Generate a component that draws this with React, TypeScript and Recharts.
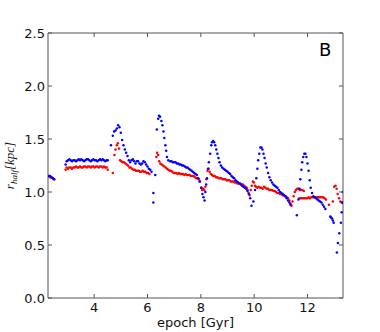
import React from 'react';
import { ScatterChart, Scatter, XAxis, YAxis, ReferenceDot } from 'recharts';

const xTicks = [4, 6, 8, 10, 12];
const yTicks = [0, 0.5, 1.0, 1.5, 2.0, 2.5];
const xDomain: [number, number] = [2.27, 13.33];
const yDomain: [number, number] = [0, 2.5];
const panelLabel = 'B';
const xLabel = 'epoch [Gyr]';

// [epoch (Gyr), r_half (kpc)]
const blueSeries: [number, number][] = [
  [2.30, 1.15], [2.35, 1.15], [2.40, 1.14], [2.45, 1.13], [2.50, 1.12],
  [2.93, 1.26], [2.97, 1.29], [3.02, 1.30], [3.07, 1.31], [3.12, 1.30], [3.17, 1.29], [3.22, 1.30], [3.27, 1.30],
  [3.32, 1.29], [3.37, 1.30], [3.42, 1.31], [3.47, 1.30], [3.52, 1.31], [3.57, 1.30], [3.62, 1.29], [3.67, 1.30],
  [3.72, 1.31], [3.77, 1.31], [3.82, 1.30], [3.87, 1.29], [3.92, 1.30], [3.97, 1.31], [4.02, 1.30], [4.07, 1.30],
  [4.12, 1.29], [4.17, 1.30], [4.22, 1.31], [4.27, 1.30], [4.32, 1.31], [4.37, 1.30], [4.42, 1.29], [4.47, 1.30],
  [4.51, 1.30],
  [4.63, 1.44], [4.70, 1.53], [4.75, 1.57], [4.80, 1.58], [4.85, 1.60], [4.90, 1.63], [4.95, 1.61], [5.00, 1.56],
  [5.05, 1.49], [5.10, 1.44], [5.15, 1.40], [5.20, 1.37], [5.25, 1.34], [5.30, 1.30], [5.35, 1.28], [5.40, 1.30],
  [5.45, 1.31], [5.50, 1.29], [5.55, 1.27], [5.60, 1.29], [5.65, 1.29], [5.70, 1.27], [5.75, 1.26], [5.80, 1.27],
  [5.85, 1.29], [5.90, 1.28], [5.95, 1.26], [6.00, 1.24], [6.05, 1.22], [6.10, 1.21], [6.15, 1.19],
  [6.22, 0.99], [6.22, 0.90], [6.29, 1.16],
  [6.35, 1.59], [6.40, 1.69], [6.43, 1.72], [6.47, 1.71], [6.52, 1.67], [6.56, 1.63], [6.60, 1.57], [6.63, 1.51],
  [6.67, 1.44], [6.70, 1.39], [6.73, 1.33], [6.78, 1.30], [6.85, 1.29], [6.90, 1.29], [6.95, 1.28], [7.00, 1.28],
  [7.05, 1.28], [7.10, 1.27], [7.15, 1.27], [7.20, 1.26], [7.25, 1.26], [7.30, 1.25], [7.35, 1.25], [7.40, 1.24],
  [7.45, 1.23], [7.50, 1.23], [7.55, 1.22], [7.60, 1.21], [7.65, 1.20], [7.70, 1.19], [7.75, 1.18], [7.80, 1.17],
  [7.85, 1.16], [7.90, 1.13], [7.95, 1.10], [8.02, 1.04], [8.06, 0.98],
  [8.10, 0.95], [8.14, 0.92], [8.17, 1.00], [8.20, 1.07], [8.23, 1.13], [8.27, 1.22], [8.30, 1.28], [8.35, 1.36],
  [8.39, 1.44], [8.42, 1.47], [8.46, 1.48], [8.50, 1.47], [8.54, 1.44], [8.58, 1.40], [8.62, 1.36], [8.66, 1.32],
  [8.70, 1.28], [8.75, 1.25], [8.80, 1.23], [8.85, 1.22], [8.90, 1.21], [8.95, 1.20], [9.00, 1.19], [9.05, 1.18],
  [9.10, 1.17], [9.15, 1.15], [9.20, 1.14], [9.25, 1.13], [9.30, 1.11], [9.35, 1.10], [9.40, 1.09], [9.45, 1.08],
  [9.50, 1.07], [9.55, 1.06], [9.60, 1.05], [9.65, 1.04], [9.70, 1.03], [9.75, 1.01], [9.80, 0.98], [9.85, 0.94],
  [9.90, 0.87],
  [9.97, 0.91], [10.03, 1.02], [10.08, 1.13], [10.12, 1.22], [10.15, 1.30], [10.19, 1.36], [10.23, 1.42],
  [10.27, 1.42], [10.31, 1.40], [10.35, 1.36], [10.39, 1.32], [10.43, 1.27], [10.47, 1.23], [10.52, 1.18],
  [10.57, 1.14], [10.62, 1.11], [10.67, 1.09], [10.72, 1.07], [10.77, 1.06], [10.82, 1.05], [10.87, 1.04],
  [10.92, 1.02], [10.97, 1.00], [11.02, 0.99], [11.07, 0.98], [11.12, 0.97], [11.17, 0.96], [11.22, 0.94],
  [11.27, 0.92], [11.32, 0.90], [11.36, 0.88],
  [11.60, 0.78], [11.66, 0.93], [11.70, 1.03], [11.73, 1.12], [11.77, 1.21], [11.80, 1.28], [11.84, 1.33],
  [11.88, 1.36], [11.92, 1.36], [11.96, 1.33], [12.00, 1.27], [12.04, 1.20], [12.08, 1.11], [12.12, 1.04],
  [12.17, 0.99], [12.22, 0.96], [12.27, 0.95], [12.32, 0.94], [12.37, 0.93], [12.42, 0.92], [12.47, 0.91],
  [12.52, 0.90], [12.57, 0.88], [12.62, 0.86], [12.67, 0.84],
  [12.85, 0.77], [12.88, 0.76], [12.92, 0.75], [12.95, 0.73], [12.98, 0.71], [13.10, 0.43], [13.14, 0.52],
  [13.19, 0.61], [13.25, 0.71], [13.28, 0.81], [13.30, 0.90], [13.32, 1.00],
];

const redSeries: [number, number][] = [
  [2.30, 1.15], [2.35, 1.14], [2.40, 1.14], [2.45, 1.13], [2.50, 1.12],
  [2.93, 1.21], [2.97, 1.23], [3.02, 1.22], [3.07, 1.23], [3.12, 1.23], [3.17, 1.22], [3.22, 1.23], [3.27, 1.23],
  [3.32, 1.24], [3.37, 1.23], [3.42, 1.23], [3.47, 1.24], [3.52, 1.23], [3.57, 1.23], [3.62, 1.24], [3.67, 1.24],
  [3.72, 1.23], [3.77, 1.24], [3.82, 1.24], [3.87, 1.23], [3.92, 1.24], [3.97, 1.24], [4.02, 1.23], [4.07, 1.24],
  [4.12, 1.24], [4.17, 1.23], [4.22, 1.24], [4.27, 1.24], [4.32, 1.23], [4.37, 1.24], [4.42, 1.23], [4.47, 1.23],
  [4.51, 1.21],
  [4.70, 1.18],
  [4.76, 1.35], [4.80, 1.40], [4.85, 1.44], [4.89, 1.46], [4.93, 1.41], [4.97, 1.30], [5.02, 1.29], [5.07, 1.28],
  [5.12, 1.28], [5.17, 1.27], [5.22, 1.26], [5.27, 1.25], [5.32, 1.23], [5.37, 1.23], [5.42, 1.22], [5.47, 1.21],
  [5.52, 1.21], [5.57, 1.20], [5.62, 1.20], [5.67, 1.20], [5.72, 1.19], [5.77, 1.19], [5.82, 1.20], [5.87, 1.19],
  [5.92, 1.19], [5.97, 1.18], [6.02, 1.18], [6.07, 1.17],
  [6.33, 1.33], [6.36, 1.37], [6.40, 1.35], [6.44, 1.29], [6.48, 1.27], [6.53, 1.26], [6.58, 1.25], [6.63, 1.24],
  [6.68, 1.23], [6.73, 1.22], [6.78, 1.21], [6.83, 1.20], [6.88, 1.20], [6.93, 1.19], [6.98, 1.18], [7.03, 1.18],
  [7.08, 1.18], [7.13, 1.17], [7.18, 1.18], [7.23, 1.17], [7.28, 1.17], [7.33, 1.17], [7.38, 1.16], [7.43, 1.17],
  [7.48, 1.16], [7.53, 1.16], [7.58, 1.16], [7.63, 1.15], [7.68, 1.15], [7.73, 1.15], [7.78, 1.14], [7.83, 1.13],
  [7.88, 1.13], [7.93, 1.12], [7.97, 1.10], [8.01, 1.04], [8.05, 1.02], [8.09, 1.03], [8.13, 1.02], [8.17, 1.05],
  [8.21, 1.12], [8.25, 1.20], [8.29, 1.22], [8.33, 1.19], [8.37, 1.17], [8.42, 1.16], [8.47, 1.15], [8.52, 1.15],
  [8.57, 1.14], [8.62, 1.14], [8.67, 1.13], [8.72, 1.13], [8.77, 1.13], [8.82, 1.12], [8.87, 1.12], [8.92, 1.12],
  [8.97, 1.11], [9.02, 1.11], [9.07, 1.11], [9.12, 1.10], [9.17, 1.10], [9.22, 1.10], [9.27, 1.09], [9.32, 1.09],
  [9.37, 1.08], [9.42, 1.08], [9.47, 1.08], [9.52, 1.07], [9.57, 1.07], [9.62, 1.06], [9.67, 1.05], [9.72, 1.04],
  [9.75, 1.02], [9.79, 0.99], [9.83, 0.97], [9.87, 1.02], [9.91, 1.06], [9.95, 1.10], [9.99, 1.09], [10.03, 1.06],
  [10.07, 1.05], [10.12, 1.04], [10.17, 1.05], [10.22, 1.04], [10.27, 1.04], [10.32, 1.03], [10.37, 1.05],
  [10.42, 1.04], [10.47, 1.03], [10.52, 1.03], [10.57, 1.02], [10.62, 1.02], [10.67, 1.02], [10.72, 1.01],
  [10.77, 1.01], [10.82, 1.00], [10.87, 0.99], [10.92, 0.99], [10.97, 0.98], [11.02, 0.98], [11.07, 0.97],
  [11.12, 0.97], [11.17, 0.96], [11.22, 0.95], [11.27, 0.94], [11.32, 0.92], [11.36, 0.89], [11.40, 0.87],
  [11.44, 0.91], [11.48, 0.96], [11.52, 1.00], [11.56, 1.02], [11.61, 1.03], [11.66, 1.03], [11.71, 1.02],
  [11.76, 1.02], [11.81, 1.02], [11.86, 1.01],
  [11.69, 0.94], [11.74, 0.94], [11.79, 0.94], [11.84, 0.94], [11.89, 0.94], [11.94, 0.94], [11.99, 0.94],
  [12.04, 0.95], [12.09, 0.94], [12.14, 0.95], [12.19, 0.95], [12.24, 0.95], [12.29, 0.95], [12.34, 0.95],
  [12.39, 0.95], [12.44, 0.95], [12.49, 0.95], [12.54, 0.95], [12.59, 0.95], [12.64, 0.94], [12.69, 0.93],
  [12.80, 0.88], [12.95, 0.91], [13.00, 1.05], [13.05, 1.06], [13.09, 1.03], [13.13, 0.98], [13.18, 0.94],
  [13.23, 0.91], [13.28, 0.90], [13.32, 0.90],
];

const toPoints = (arr: [number, number][]) => arr.map(([epoch, rhalf]) => ({ epoch, rhalf }));
const blueData = toPoints(blueSeries);
const redData = toPoints(redSeries);

const FONT = '"DejaVu Sans", sans-serif';
const TICK_LEN = 4;
const AXIS_COLOR = '#555';
const TEXT_COLOR = '#111';

const BottomTick = (props: any) => {
  const { x, y, payload } = props;
  return (
    <g>
      <line x1={x} x2={x} y1={y} y2={y - TICK_LEN} stroke={AXIS_COLOR} strokeWidth={1} />
      <text x={x} y={y + 14} textAnchor="middle" fontFamily={FONT} fontSize={13} fill={TEXT_COLOR}>
        {payload.value}
      </text>
    </g>
  );
};

const LeftTick = (props: any) => {
  const { x, y, payload } = props;
  return (
    <g>
      <line x1={x} x2={x + TICK_LEN} y1={y} y2={y} stroke={AXIS_COLOR} strokeWidth={1} />
      <text x={x - 3} y={y + 4.6} textAnchor="end" fontFamily={FONT} fontSize={13} fill={TEXT_COLOR}>
        {Number(payload.value).toFixed(1)}
      </text>
    </g>
  );
};

const TopTick = (props: any) => {
  const { x, y } = props;
  return <line x1={x} x2={x} y1={y} y2={y + TICK_LEN} stroke={AXIS_COLOR} strokeWidth={1} />;
};

const RightTick = (props: any) => {
  const { x, y } = props;
  return <line x1={x} x2={x - TICK_LEN} y1={y} y2={y} stroke={AXIS_COLOR} strokeWidth={1} />;
};

const YLabel = (props: any) => {
  const vb = props.viewBox || { x: 0, y: 33, width: 48, height: 265 };
  const cx = vb.x + 14;
  const cy = vb.y + vb.height / 2;
  return (
    <text
      x={cx}
      y={cy}
      transform={`rotate(-90 ${cx} ${cy})`}
      textAnchor="middle"
      fontFamily='"Liberation Serif", serif'
      fontStyle="italic"
      fontSize={13}
      fill={TEXT_COLOR}
    >
      r<tspan dy={3} fontSize={9}>half</tspan>
      <tspan dy={-3}>[kpc]</tspan>
    </text>
  );
};

const XLabel = (props: any) => {
  const vb = props.viewBox || { x: 48, y: 298, width: 295, height: 34 };
  return (
    <text x={vb.x + vb.width / 2} y={vb.y + 29} textAnchor="middle" fontFamily={FONT} fontSize={13} fill={TEXT_COLOR}>
      {xLabel}
    </text>
  );
};

const Dot = (color: string) => (p: any) =>
  p.cx == null ? null : <circle cx={p.cx} cy={p.cy} r={1.25} fill={color} />;

export default function App() {
  return (
    <div style={{ position: 'absolute', left: 0, top: 0, background: '#fff' }}>
      <ScatterChart width={380} height={332} margin={{ top: 32, right: 36, bottom: 0, left: 0 }}>
        <XAxis
          xAxisId="main"
          type="number"
          dataKey="epoch"
          domain={xDomain}
          allowDataOverflow
          ticks={xTicks}
          height={34}
          tickSize={0}
          tickMargin={0}
          tickLine={false}
          axisLine={{ stroke: AXIS_COLOR, strokeWidth: 1 }}
          tick={<BottomTick />}
          label={<XLabel />}
          interval={0}
        />
        <XAxis
          xAxisId="top"
          orientation="top"
          type="number"
          dataKey="epoch"
          domain={xDomain}
          allowDataOverflow
          ticks={xTicks}
          height={1}
          tickSize={0}
          tickMargin={0}
          tickLine={false}
          axisLine={{ stroke: AXIS_COLOR, strokeWidth: 1 }}
          tick={<TopTick />}
          interval={0}
        />
        <YAxis
          yAxisId="main"
          type="number"
          dataKey="rhalf"
          domain={yDomain}
          allowDataOverflow
          ticks={yTicks}
          width={48}
          tickSize={0}
          tickMargin={0}
          tickLine={false}
          axisLine={{ stroke: AXIS_COLOR, strokeWidth: 1 }}
          tick={<LeftTick />}
          label={<YLabel />}
          interval={0}
        />
        <YAxis
          yAxisId="right"
          orientation="right"
          type="number"
          dataKey="rhalf"
          domain={yDomain}
          allowDataOverflow
          ticks={yTicks}
          width={1}
          tickSize={0}
          tickMargin={0}
          tickLine={false}
          axisLine={{ stroke: AXIS_COLOR, strokeWidth: 1 }}
          tick={<RightTick />}
          interval={0}
        />
        <Scatter xAxisId="top" yAxisId="right" data={redData} shape={() => null} isAnimationActive={false} />
        <Scatter xAxisId="main" yAxisId="main" data={redData} fill="#ff0000" shape={Dot('#ff0000')} isAnimationActive={false} />
        <Scatter xAxisId="main" yAxisId="main" data={blueData} fill="#0000ff" shape={Dot('#0000ff')} isAnimationActive={false} />
        <ReferenceDot
          xAxisId="main"
          yAxisId="main"
          x={12.66}
          y={2.34}
          r={0}
          fill="none"
          stroke="none"
          label={{ value: panelLabel, position: 'center', fontSize: 18, fill: '#000', fontFamily: FONT }}
        />
      </ScatterChart>
    </div>
  );
}
